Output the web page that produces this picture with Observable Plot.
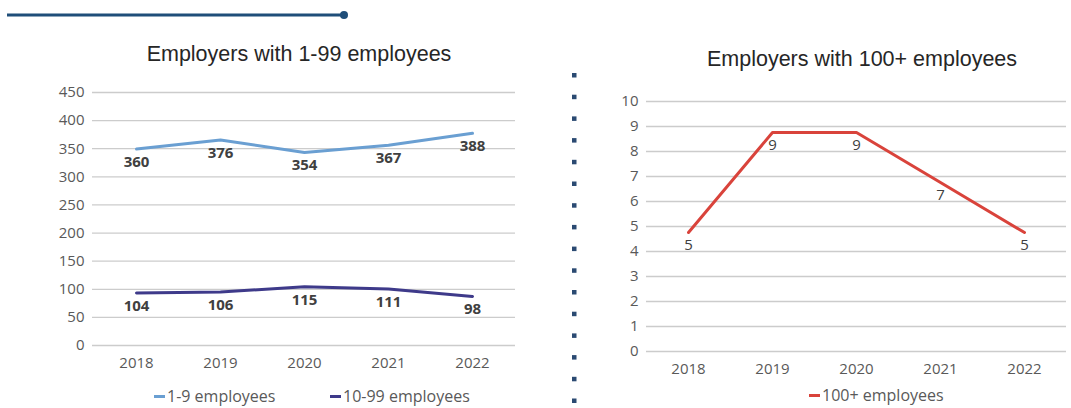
<!DOCTYPE html>
<html>
<head>
<meta charset="utf-8">
<script src="https://cdn.jsdelivr.net/npm/d3@7"></script>
<script src="https://cdn.jsdelivr.net/npm/@observablehq/plot@0.6"></script>
<style>
  html, body { margin: 0; padding: 0; background: #fff; }
  #root { position: relative; width: 1071px; height: 408px; overflow: hidden; font-family: "Open Sans", sans-serif; }
  .abs { position: absolute; }
  .title { font-family: "Liberation Sans", Arial, sans-serif; font-size: 21.5px; color: #262626; white-space: nowrap; transform: translateX(-50%); line-height: 24px; }
  .legend { font-family: "Open Sans", sans-serif; font-size: 16px; line-height: 16px; color: #595959; white-space: nowrap; display: flex; align-items: center; }
  .sw { display: inline-block; width: 11px; height: 3px; margin-right: 2px; }
</style>
</head>
<body>
<div id="root"></div>
<script>
// ---- data ----
const years = ["2018", "2019", "2020", "2021", "2022"];
const small19 = [360, 376, 354, 367, 388];      // 1-9 employees
const small1099 = [104, 106, 115, 111, 98];     // 10-99 employees
const large100 = [5, 9, 9, 7, 5];               // 100+ employees
const leftTicks = [0, 50, 100, 150, 200, 250, 300, 350, 400, 450];
const rightTicks = [0, 1, 2, 3, 4, 5, 6, 7, 8, 9, 10];
const seriesNames = ["1-9 employees", "10-99 employees", "100+ employees"];
const titles = ["Employers with 1-99 employees", "Employers with 100+ employees"];

const colors = { "1-9 employees": "#6a9fd2", "10-99 employees": "#3e3a8a", "100+ employees": "#d9433b" };

const leftData = [
  ...years.map((y, i) => ({ year: y, value: small19[i], series: seriesNames[0] })),
  ...years.map((y, i) => ({ year: y, value: small1099[i], series: seriesNames[1] }))
];
const rightData = years.map((y, i) => ({ year: y, value: large100[i], series: seriesNames[2] }));

const root = document.getElementById("root");

// decorative top rule and dotted separator
const deco = document.createElementNS("http://www.w3.org/2000/svg", "svg");
deco.setAttribute("width", 1071); deco.setAttribute("height", 408);
deco.setAttribute("style", "position:absolute;left:0;top:0;");
deco.innerHTML = `<line x1="7" y1="15" x2="343" y2="15" stroke="#1f4e79" stroke-width="3"/>
<circle cx="344" cy="15" r="4" fill="#1f4e79"/>` +
  d3.range(16).map(i => `<rect x="572" y="${73 + i * 21.7}" width="4.5" height="4.5" fill="#2b4a72"/>`).join("");
root.appendChild(deco);

function makePlot({ data, ticks, domain, width, height, ml, mr, mt, mb, bold }) {
  return Plot.plot({
    width, height,
    marginLeft: ml, marginRight: mr, marginTop: mt, marginBottom: mb,
    style: { fontSize: 15, fontFamily: "Open Sans, sans-serif", color: "#595959", background: "transparent", overflow: "visible" },
    x: { type: "band", domain: years, padding: 0, label: null },
    y: { domain, ticks, label: null },
    color: { domain: Object.keys(colors), range: Object.values(colors) },
    marks: [
      Plot.gridY(ticks, { stroke: "#cccccc", strokeOpacity: 1, strokeWidth: 1.3 }),
      Plot.axisY(ticks, { tickSize: 0, tickPadding: 8, fill: "#595959", fontSize: 15, label: null }),
      Plot.axisX({ tickSize: 0, tickPadding: 12, fill: "#595959", fontSize: 15, label: null }),
      Plot.line(data, { x: "year", y: "value", z: "series", stroke: "series", strokeWidth: 3, dy: 6, curve: "linear" }),
      Plot.text(data, { x: "year", y: "value", text: d => String(d.value), dy: 19, fill: "#404040",
        fontSize: 15, fontWeight: bold ? "bold" : "normal" })
    ]
  });
}

const left = makePlot({ data: leftData, ticks: leftTicks, domain: [0, 450], width: 540, height: 380,
  ml: 92, mr: 25, mt: 92, mb: 35, bold: true });
left.setAttribute("style", (left.getAttribute("style") || "") + ";position:absolute;left:0;top:0;");
root.appendChild(left);

const right = makePlot({ data: rightData, ticks: rightTicks, domain: [0, 10], width: 531, height: 385,
  ml: 106, mr: 5, mt: 101, mb: 34, bold: false });
right.setAttribute("style", (right.getAttribute("style") || "") + ";position:absolute;left:540px;top:0;");
root.appendChild(right);

function addDiv(cls, html, x, y) {
  const d = document.createElement("div");
  d.className = "abs " + cls;
  d.innerHTML = html;
  d.style.left = x + "px"; d.style.top = y + "px";
  root.appendChild(d);
  return d;
}
addDiv("title", titles[0], 299, 42);
addDiv("title", titles[1], 862, 47);
addDiv("legend", `<span class="sw" style="background:${colors[seriesNames[0]]}"></span>${seriesNames[0]}`, 154, 388);
addDiv("legend", `<span class="sw" style="background:${colors[seriesNames[1]]}"></span>${seriesNames[1]}`, 330, 388);
addDiv("legend", `<span class="sw" style="background:${colors[seriesNames[2]]}"></span>${seriesNames[2]}`, 809, 387);
</script>
</body>
</html>
